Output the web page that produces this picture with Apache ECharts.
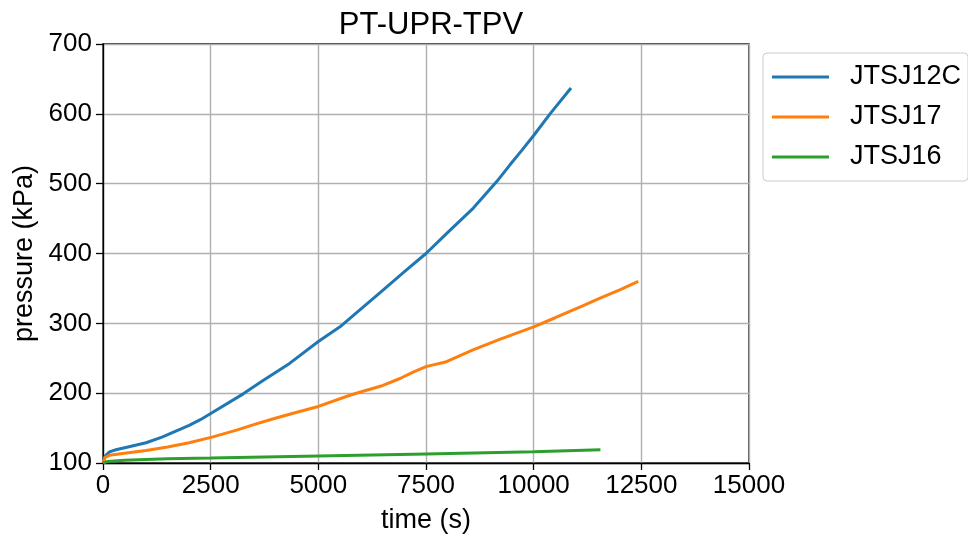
<!DOCTYPE html>
<html><head><meta charset="utf-8">
<script src="https://cdn.jsdelivr.net/npm/echarts@6/dist/echarts.min.js"></script>
<style>html,body{margin:0;padding:0;background:#fff}#c{width:968px;height:542px}</style>
</head><body><div id="c"></div>
<script>
const title = 'PT-UPR-TPV';
const seriesNames = ['JTSJ12C', 'JTSJ17', 'JTSJ16'];
const xTicks = [0, 2500, 5000, 7500, 10000, 12500, 15000];
const yTicks = [100, 200, 300, 400, 500, 600, 700];
const jtsj12c = [[0,100],[50,110],[150,116],[300,119],[580,123],[1000,129],[1370,137],[2000,154],[2260,162],[2530,172],[3256,199],[3690,217],[4340,243],[5000,274],[5503,295],[5733,307],[6509,348],[7000,374],[7500,400],[8000,430],[8599,465],[9142,503],[9450,527],[9729,548],[10000,569],[10380,600],[10867,637]];
const jtsj17 = [[0,100],[50,108],[150,111],[500,114],[1000,118],[1500,123],[2000,129],[2530,137],[3102,147],[3500,155],[4000,164],[4458,172],[5000,181],[5733,197],[6000,202],[6500,211],[6896,221],[7200,230],[7500,238],[7976,245],[8591,262],[9211,277],[10000,295],[10500,308],[11137,325],[11541,336],[12000,348],[12429,360]];
const jtsj16 = [[0,100],[100,102],[500,104],[1500,106],[2500,107],[5000,110],[7500,113],[10000,116],[11550,119]];
const colors = ['#1f77b4', '#ff7f0e', '#2ca02c'];
const font = 'Liberation Sans, Arial, sans-serif';
const chart = echarts.init(document.getElementById('c'));
const mk = (name, data, c) => ({name, type:'line', data, showSymbol:false, symbol:'none', lineStyle:{color:c, width:3}, itemStyle:{color:c}, smooth:false});
chart.setOption({
  animation:false,
  title:{text:title, left:426, top:5, textAlign:'center', textStyle:{fontFamily:font, fontSize:31, fontWeight:'normal', color:'#000'}},
  grid:{left:103, right:219, top:44, bottom:79, show:true, borderColor:'#000', borderWidth:1.3, backgroundColor:'transparent'},
  legend:{orient:'vertical', left:763, top:53, data:seriesNames, icon:'rect', itemWidth:57, itemHeight:3, itemGap:12,
    padding:[10,7,10,9], borderColor:'#cccccc', borderWidth:1, borderRadius:4,
    textStyle:{fontFamily:font, fontSize:27, color:'#000', lineHeight:28, padding:[0,0,0,16]}},
  xAxis:{type:'value', min:xTicks[0], max:xTicks[xTicks.length-1], interval:2500, name:'time (s)', nameLocation:'middle', nameGap:44,
    nameTextStyle:{fontFamily:font, fontSize:27, color:'#000'},
    axisLine:{show:true, onZero:false, lineStyle:{color:'#000', width:1.3}}, axisTick:{show:true, length:7, lineStyle:{color:'#000', width:1.3}},
    axisLabel:{fontFamily:font, fontSize:26, color:'#000', margin:10, formatter:v => String(v)}, splitLine:{show:true, lineStyle:{color:'#b0b0b0', width:1.4}}},
  yAxis:{type:'value', min:yTicks[0], max:yTicks[yTicks.length-1], interval:100, name:'pressure (kPa)', nameLocation:'middle', nameGap:63, nameRotate:90,
    nameTextStyle:{fontFamily:font, fontSize:27, color:'#000'},
    axisLine:{show:true, onZero:false, lineStyle:{color:'#000', width:1.3}}, axisTick:{show:true, length:7, lineStyle:{color:'#000', width:1.3}},
    axisLabel:{fontFamily:font, fontSize:26, color:'#000', margin:11, formatter:v => String(v)}, splitLine:{show:true, lineStyle:{color:'#b0b0b0', width:1.4}}},
  series:[mk(seriesNames[0], jtsj12c, colors[0]), mk(seriesNames[1], jtsj17, colors[1]), mk(seriesNames[2], jtsj16, colors[2])]
});
</script></body></html>
